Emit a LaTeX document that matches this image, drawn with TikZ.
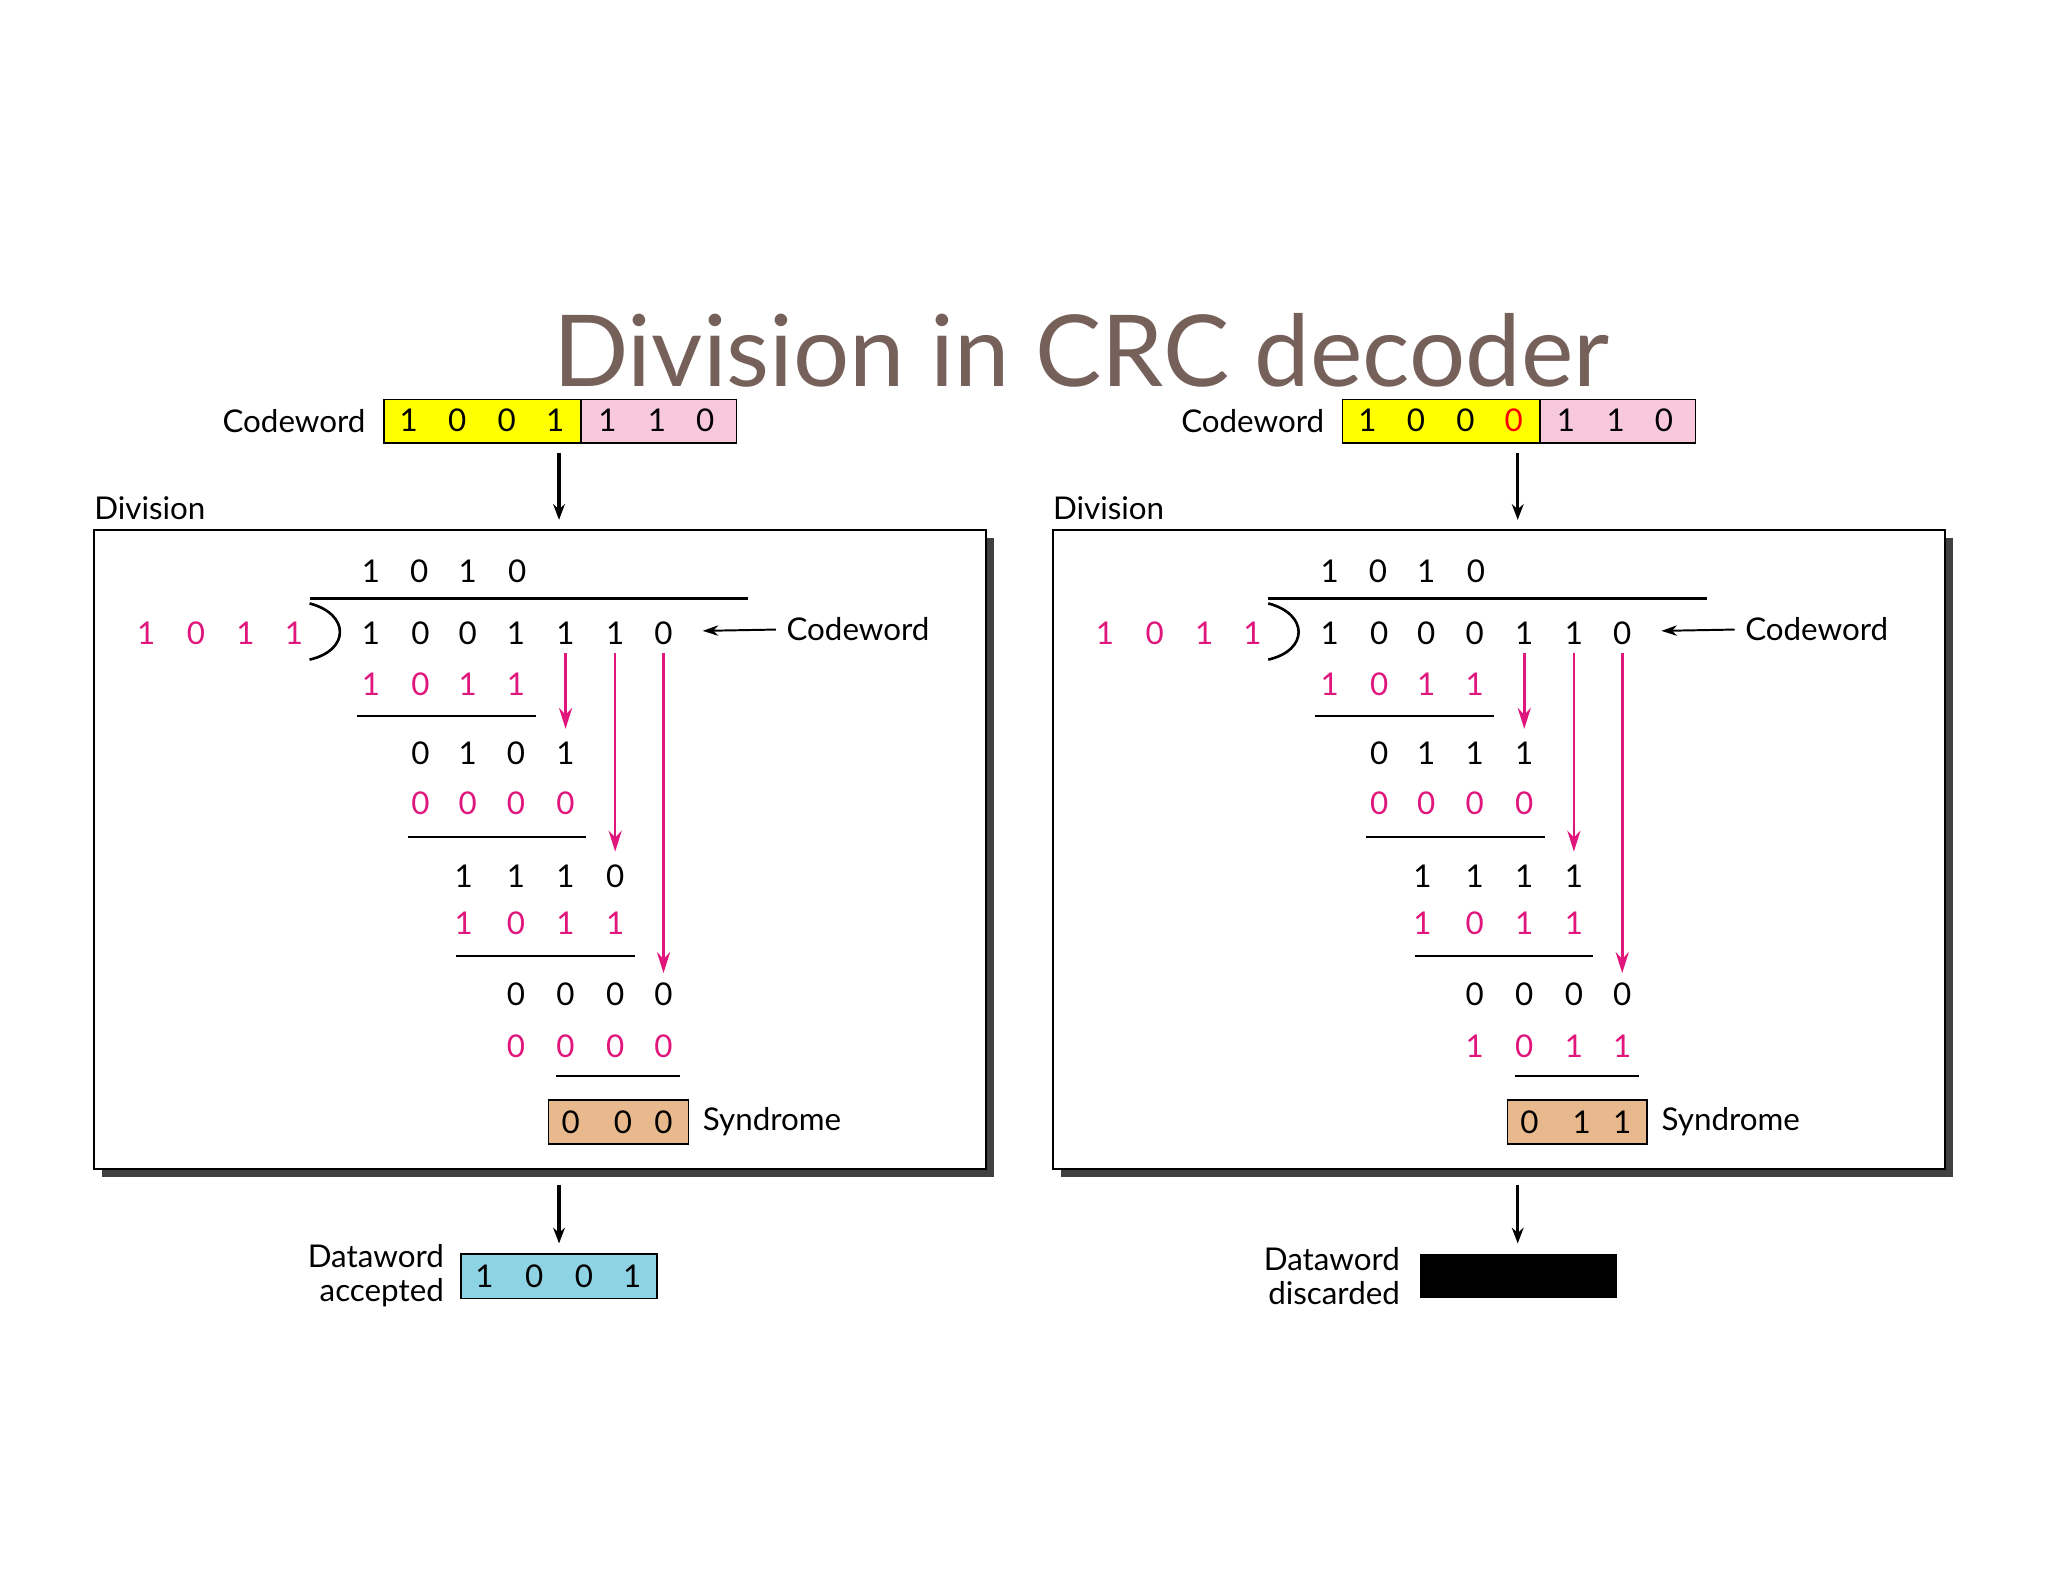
\documentclass[tikz,border=0pt]{standalone}
\usepackage{fontspec}
\setmainfont{Lato}
\usetikzlibrary{arrows.meta}
\definecolor{pk}{HTML}{E0167C}
\definecolor{ttl}{HTML}{76605A}
\definecolor{yl}{HTML}{FFFF00}
\definecolor{pkb}{HTML}{F8C8DC}
\definecolor{tan}{HTML}{E8B98C}
\definecolor{cy}{HTML}{8ED3E3}
\newcommand\digrow[3]{\foreach \x/\d in {#3} \node[dg,#2] at (\x,#1) {\d};}
\tikzset{dg/.style={font=\fontsize{24}{26}\selectfont,inner sep=0pt,anchor=center},
lbl/.style={font=\fontsize{24}{26}\selectfont,inner sep=0pt},
blk/.style={-{Stealth[length=12pt,width=9pt]},line width=2.5pt},
pka/.style={pk,-{Stealth[length=16pt,width=10pt]},line width=2pt},
rule/.style={line width=1.3pt}}
\begin{document}
\begin{tikzpicture}[x=1pt,y=-1pt]
\useasboundingbox (0,0) rectangle (1568,1211);
\node[font=\fontsize{76}{80}\selectfont,text=ttl] (title) at (828,268) {Division in CRC decoder};
\foreach \off/\fourth/\fc/\pr/\rb/\rc/\rd/\re/\rf/\rg/\sa/\sb/\sc in {0/1/black/1/0/1/0/0/0/0/0/0/0, 734/0/red/1/1/1/1/0/1/1/0/1/1}{
\begin{scope}[xshift=\off]
\node[lbl,anchor=east] (cwl) at (280,322) {Codeword};
\draw[fill=yl,line width=1.2pt] (294,306) rectangle (445,339);
\draw[fill=pkb,line width=1.2pt] (445,306) rectangle (564,339);
\digrow{322}{}{313/1,350/0,388/0,465/1,503/1,540/0}
\node[dg,text=\fc] at (425,322) {\fourth};
\coordinate (a1) at (428,347); \coordinate (a2) at (428,398);
\draw[blk] (a1) -- (a2);
\node[lbl,anchor=west] at (72,389) {Division};
\fill[black!75] (78,412) rectangle (761,901);
\draw[fill=white,line width=1.3pt] (72,406) rectangle (755,895);
\digrow{437}{}{284/1,321/0,358/1,396/0}
\digrow{485}{pk}{112/1,150/0,188/1,225/1}
\draw[line width=2pt] (237,462) .. controls (268,470) and (268,498) .. (237,505);
\draw[line width=2pt] (237,458) -- (573,458);
\digrow{485}{}{284/1,322/0,358/0,395/\fourth,433/1,471/1,508/0}
\node[lbl,anchor=west] (cw2) at (602,482) {Codeword};
\draw[-{Stealth[length=12pt,width=8pt]},line width=1.5pt] (cw2.west) ++(-8,0) -- (538,483);
\digrow{524}{pk}{284/1,322/0,358/1,395/1}
\draw[rule] (273,548) -- (410,548);
\digrow{577}{}{322/0,358/1,395/\rb,433/1}
\digrow{615}{pk}{322/0,358/0,395/0,433/0}
\draw[rule] (312,641) -- (449,641);
\digrow{671}{}{355/1,395/\rc,433/1,471/\rd}
\digrow{707}{pk}{355/1,395/0,433/1,471/1}
\draw[rule] (349,732) -- (486,732);
\digrow{761}{}{395/\re,433/0,471/0,508/0}
\digrow{801}{pk}{395/\rf,433/0,471/\rg,508/\rg}
\draw[rule] (426,824) -- (521,824);
\draw[fill=tan,line width=1.2pt] (420,842) rectangle (527,876);
\digrow{859}{}{437/\sa,477/\sb,508/\sc}
\node[lbl,anchor=west] at (538,859) {Syndrome};
\draw[pka] (433,500) -- (433,558);
\draw[pka] (471,500) -- (471,652);
\draw[pka] (508,500) -- (508,745);
\draw[blk] (428,907) -- (428,952);
\end{scope}}
\draw[fill=cy,line width=1.2pt] (353,960) rectangle (503,994);
\digrow{977}{}{371/1,409/0,447/0,484/1}
\node[lbl,anchor=east,align=right] at (340,977) {Dataword\\accepted};
\fill[black] (1087,960) rectangle (1238,994);
\node[lbl,anchor=east,align=right] at (1072,977) {Dataword\\discarded};
\end{tikzpicture}
\end{document}
